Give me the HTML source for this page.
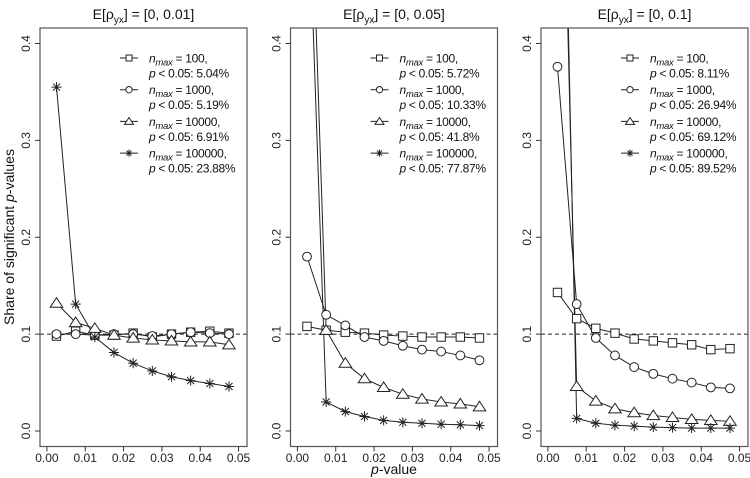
<!DOCTYPE html>
<html><head><meta charset="utf-8"><style>
html,body{margin:0;padding:0;background:#fff;}
svg{display:block;font-family:"Liberation Sans",sans-serif;}
</style></head><body>
<svg id="chart" width="750" height="478" viewBox="0 0 750 478"></svg>
<script>
const xVals = [0.0025,0.0075,0.0125,0.0175,0.0225,0.0275,0.0325,0.0375,0.0425,0.0475];
const xTicks = [0,0.01,0.02,0.03,0.04,0.05];
const xTickLabels = ["0.00","0.01","0.02","0.03","0.04","0.05"];
const yTicks = [0,0.1,0.2,0.3,0.4];
const yTickLabels = ["0.0","0.1","0.2","0.3","0.4"];
const panelTitles = ["[0, 0.01]","[0, 0.05]","[0, 0.1]"];
const seriesNames = ["100","1000","10000","100000"];
const legendPct = [["5.04%","5.19%","6.91%","23.88%"],["5.72%","10.33%","41.8%","77.87%"],["8.11%","26.94%","69.12%","89.52%"]];
const p1Squares = [0.098,0.103,0.099,0.099,0.101,0.097,0.100,0.102,0.103,0.101];
const p1Circles = [0.100,0.100,0.099,0.100,0.100,0.098,0.100,0.102,0.101,0.100];
const p1Triangles = [0.132,0.112,0.106,0.099,0.096,0.094,0.093,0.092,0.092,0.089];
const p1Stars = [0.355,0.131,0.097,0.081,0.070,0.062,0.056,0.052,0.049,0.046];
const p2Squares = [0.108,0.104,0.102,0.101,0.099,0.098,0.097,0.097,0.097,0.096];
const p2Circles = [0.180,0.120,0.109,0.097,0.093,0.088,0.084,0.082,0.078,0.073];
const p2Triangles = [0.70,0.104,0.070,0.054,0.045,0.038,0.033,0.030,0.028,0.025];
const p2Stars = [0.60,0.030,0.020,0.015,0.011,0.009,0.008,0.007,0.0065,0.0055];
const p3Squares = [0.143,0.116,0.106,0.101,0.095,0.093,0.091,0.089,0.084,0.085];
const p3Circles = [0.376,0.131,0.096,0.078,0.066,0.059,0.054,0.050,0.045,0.044];
const p3Triangles = [0.85,0.046,0.031,0.023,0.019,0.016,0.014,0.012,0.011,0.010];
const p3Stars = [0.95,0.013,0.008,0.006,0.005,0.004,0.0035,0.003,0.003,0.003];
const refLine = 0.1;

const panels = [[p1Squares,p1Circles,p1Triangles,p1Stars],[p2Squares,p2Circles,p2Triangles,p2Stars],[p3Squares,p3Circles,p3Triangles,p3Stars]];
const svg = document.getElementById('chart');
const NS = 'http://www.w3.org/2000/svg';
const boxLeft = [40,290.5,541], boxW = 207, boxTop = 28, boxBot = 446.5;
const xMin = -0.0018, xMax = 0.0522, yMin = -0.016, yMax = 0.416;
function mk(tag, attrs, parent){const e=document.createElementNS(NS,tag);for(const k in attrs)e.setAttribute(k,attrs[k]);(parent||svg).appendChild(e);return e;}
function sx(i,v){return boxLeft[i]+(v-xMin)/(xMax-xMin)*boxW;}
function sy(v){return boxBot-(v-yMin)/(yMax-yMin)*(boxBot-boxTop);}
function marker(g,type,x,y,s){
  const st={fill:'#fff',stroke:'#222','stroke-width':1};
  let e;
  if(type===0){e=mk('rect',Object.assign({x:x-s,y:y-s,width:2*s,height:2*s},st),g);}
  else if(type===1){e=mk('circle',Object.assign({cx:x,cy:y,r:s*1.05},st),g);}
  else if(type===2){const h=s*1.3;e=mk('polygon',Object.assign({points:`${x},${y-h} ${x-h*1.15},${y+h*0.75} ${x+h*1.15},${y+h*0.75}`},st),g);}
  else{const r=s*1.2;e=mk('path',{d:`M${x-r},${y}H${x+r}M${x},${y-r}V${y+r}M${x-r*0.7},${y-r*0.7}L${x+r*0.7},${y+r*0.7}M${x-r*0.7},${y+r*0.7}L${x+r*0.7},${y-r*0.7}`,stroke:'#222','stroke-width':1,fill:'none'},g);}
  
  
  return e;
}
panels.forEach((series,pi)=>{
  const g=mk('g',{});
  
  
  const t=mk('text',{x:boxLeft[pi]+boxW/2,y:19,'text-anchor':'middle','font-size':14,fill:'#111'},g);
  
  
  t.innerHTML='E[ρ<tspan font-size="10" dy="4">yx</tspan><tspan dy="-4">] = '+panelTitles[pi]+'</tspan>';
  const clipId='clip'+pi;
  const cp=mk('clipPath',{id:clipId},g);
  mk('rect',{x:boxLeft[pi],y:boxTop,width:boxW,height:boxBot-boxTop},cp);
  const rl=mk('line',{x1:boxLeft[pi],x2:boxLeft[pi]+boxW,y1:sy(refLine),y2:sy(refLine),stroke:'#222','stroke-dasharray':'4,3','stroke-width':1},g);
  
  
  const dg=mk('g',{'clip-path':`url(#${clipId})`},g);
  series.forEach((vals,si)=>{
    const pts=vals.map((v,k)=>sx(pi,xVals[k])+','+sy(v)).join(' ');
    const pl=mk('polyline',{points:pts,fill:'none',stroke:'#222','stroke-width':1},dg);
    
    
  });
  series.forEach((vals,si)=>{vals.forEach((v,k)=>marker(dg,si,sx(pi,xVals[k]),sy(v),4.2));});
  const bx=mk('rect',{x:boxLeft[pi],y:boxTop,width:boxW,height:boxBot-boxTop,fill:'none',stroke:'#555','stroke-width':1.2},g);
  
  
  xTicks.forEach((v,k)=>{
    const x=sx(pi,v);
    mk('line',{x1:x,x2:x,y1:boxBot,y2:boxBot+5,stroke:'#333'},g);
    const tl=mk('text',{x:x,y:462,'text-anchor':'middle','font-size':12,fill:'#222'},g);
    
    
    tl.textContent=xTickLabels[k];
  });
  yTicks.forEach((v,k)=>{
    const y=sy(v);
    mk('line',{x1:boxLeft[pi],x2:boxLeft[pi]-5,y1:y,y2:y,stroke:'#333'},g);
    const tx=boxLeft[pi]-10;
    const tl=mk('text',{x:tx,y:y,'text-anchor':'middle','font-size':12,fill:'#222',transform:`rotate(-90 ${tx} ${y})`},g);
    
    
    tl.textContent=yTickLabels[k];
  });
  const lg=mk('g',{},g);
  
  
  seriesNames.forEach((n,si)=>{
    const y0=58+si*31.7;
    const sxp=boxLeft[pi]+89;
    mk('line',{x1:sxp-9,x2:sxp+9,y1:y0,y2:y0,stroke:'#222'},lg);
    marker(lg,si,sxp,y0,3);
    const tx=boxLeft[pi]+109;
    const t1=mk('text',{x:tx,y:y0+4.5,'font-size':12,'letter-spacing':'-0.3',fill:'#111'},lg);
    
    
    t1.innerHTML='<tspan font-style="italic">n</tspan><tspan font-size="9.5" font-style="italic" dy="3">max</tspan><tspan dy="-3"> = '+n+',</tspan>';
    const t2=mk('text',{x:tx,y:y0+19.5,'font-size':12,'letter-spacing':'-0.3',fill:'#111'},lg);
    
    
    t2.innerHTML='<tspan font-style="italic">p</tspan> &lt; 0.05: '+legendPct[pi][si];
  });
});
const yl=mk('text',{x:14,y:237,'text-anchor':'middle','font-size':14,fill:'#111',transform:'rotate(-90 14 237)'});


yl.innerHTML='Share of significant <tspan font-style="italic">p</tspan>-values';
const xl=mk('text',{x:394,y:474,'text-anchor':'middle','font-size':14,fill:'#111'});


xl.innerHTML='<tspan font-style="italic">p</tspan>-value';
</script>
</body></html>
